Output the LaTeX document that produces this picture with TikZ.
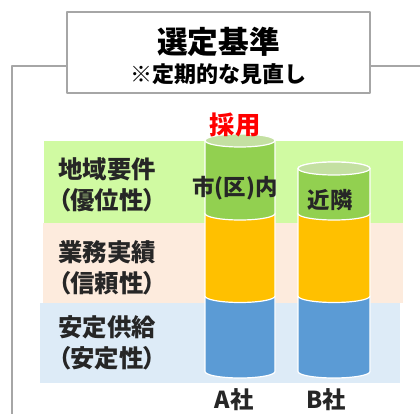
\documentclass[tikz,border=0pt]{standalone}
\usepackage{fontspec}
\newfontfamily\jpfont{Noto Sans CJK JP}
\newfontfamily\jpfontp[RawFeature=+palt]{Noto Sans CJK JP}
\usepackage{xcolor}
\definecolor{framegray}{HTML}{A6A6A6}
\definecolor{bandgreen}{HTML}{D0FAA2}
\definecolor{bandpeach}{HTML}{FDEBDD}
\definecolor{bandblue}{HTML}{DDEBF7}
\definecolor{cylgreen}{HTML}{92D050}
\definecolor{cyltop}{HTML}{C4E0A2}
\definecolor{cylorange}{HTML}{FFC000}
\definecolor{cylblue}{HTML}{5B9BD5}
\definecolor{textdark}{HTML}{262626}
\usepackage{tikz}

\begin{document}
\begin{tikzpicture}[x=0.75pt,y=0.75pt,line join=round,
  frameline/.style={line width=1.5pt,framegray},
  titlebox/.style={draw=framegray,line width=1.5pt,fill=white,
                   minimum width=227.25pt,minimum height=60.75pt,inner sep=0pt},
  rowlbl/.style={anchor=west,align=left,inner sep=0pt,textdark,
                 font=\jpfontp\bfseries\fontsize{18.3}{23.25}\selectfont},
  cyllbl/.style={inner sep=0pt,textdark,font=\jpfontp\bfseries\fontsize{16.8}{18}\selectfont},
  corplbl/.style={inner sep=0pt,textdark,font=\jpfont\bfseries\fontsize{17.5}{19}\selectfont},
  cylseg/.style={draw=white,line width=0.9pt}]
  \useasboundingbox (0,0) rectangle (420,414);

  % frame round the criteria
  \node[titlebox] (title) at (218.5,361.5) {};
  \coordinate (fl) at (12,0);
  \coordinate (fr) at (420,348);
  \draw[frameline] (title.south west |- fr) -| (fl);
  \draw[frameline] (title.south east |- fr) -- (fr);
  \node[font=\jpfont\bfseries\fontsize{23}{25}\selectfont] (ttl) at (218.5,372) {選定基準};
  \node[font=\jpfont\bfseries\fontsize{16.5}{18}\selectfont] (sub) at (218.5,340) {※定期的な見直し};

  % bands
  \fill[bandgreen] (44,191) rectangle (403,273);
  \fill[bandpeach] (43,111) rectangle (403,191);
  \fill[bandblue]  (40,31)  rectangle (400,111);

  % cylinders (bottom segment first)
  \foreach \cx/\rx/\ytop/\ybot/\col in {240/35/118/42.5/cylblue,
      240/35/200.5/118/cylorange, 240/35/273.5/200.5/cylgreen,
      334/36/118/42.5/cylblue, 334/36/200.5/118/cylorange,
      334/36/245.5/200.5/cylgreen}
    \filldraw[cylseg,fill=\col] (\cx-\rx,\ytop) -- (\cx-\rx,\ybot)
      arc[start angle=180,end angle=360,x radius=\rx,y radius=6.5]
      -- (\cx+\rx,\ytop)
      arc[start angle=0,end angle=180,x radius=\rx,y radius=6.5] -- cycle;
  \filldraw[cylseg,fill=cyltop] (240,273.5) ellipse[x radius=35,y radius=6.5];
  \filldraw[cylseg,fill=cyltop] (334,245.5) ellipse[x radius=36,y radius=6.5];

  % labels
  \node[rowlbl] (geo)  at (58,229.5) {地域要件\\（優位性）};
  \node[rowlbl] (perf) at (58,146)   {業務実績\\（信頼性）};
  \node[rowlbl] (sup)  at (58,71.5)  {安定供給\\（安定性）};
  \node[font=\jpfont\bfseries\fontsize{19}{21}\selectfont,red] (adopt) at (235,289) {採用};
  \node[cyllbl] (city) at (235,226) {市(区)内};
  \node[cyllbl] (near) at (330,214) {近隣};
  \node[corplbl] (compa) at (234,14) {A社};
  \node[corplbl] (compb) at (326,14) {B社};
\end{tikzpicture}
\end{document}
